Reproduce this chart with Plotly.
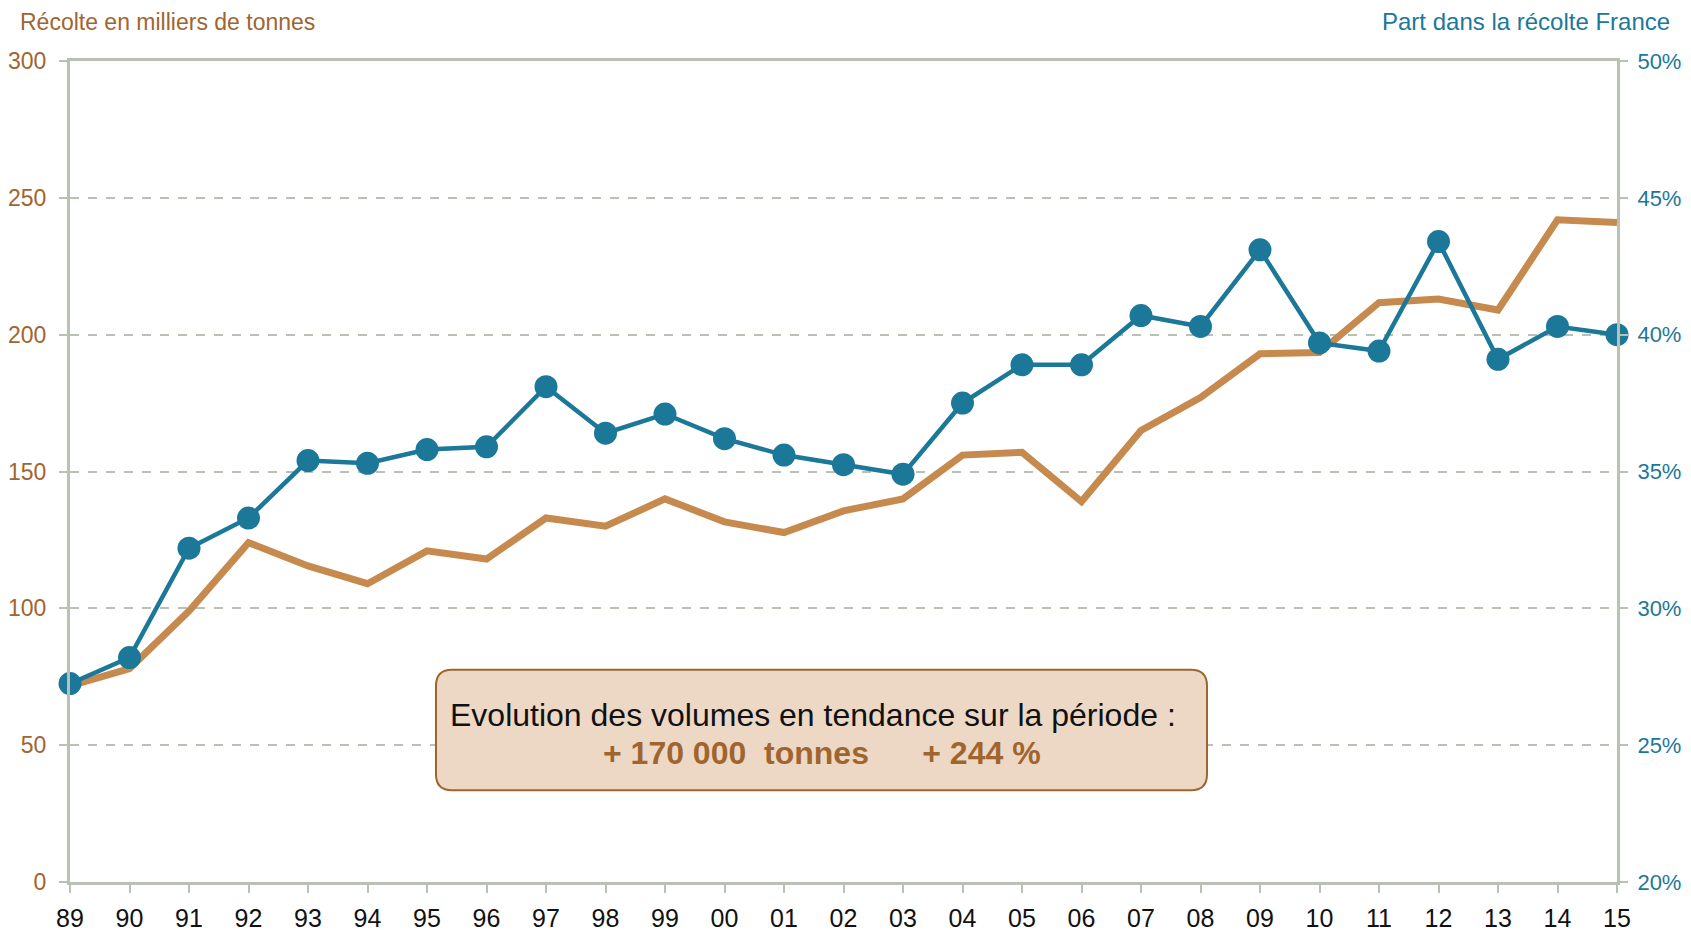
import plotly.graph_objects as go

years = ["89","90","91","92","93","94","95","96","97","98","99","00","01","02","03",
         "04","05","06","07","08","09","10","11","12","13","14","15"]
recolte = [71.7, 78, 99, 124, 115.5, 109, 121, 118, 133, 130, 140, 131.6, 127.7, 135.6, 140,
           156, 157, 139, 165, 177, 193, 193.5, 211.7, 213, 209, 242, 241]
part = [27.25, 28.2, 32.2, 33.3, 35.4, 35.3, 35.8, 35.9, 38.1, 36.4, 37.1, 36.2, 35.6, 35.25, 34.9,
        37.5, 38.9, 38.9, 40.7, 40.3, 43.1, 39.7, 39.4, 43.4, 39.1, 40.3, 40.0]

ORANGE = "#C68A4E"
BROWN = "#A0652F"
BLUE = "#1C7899"
GRID = "#B8C1B3"
FONT = "Liberation Sans, Arial, sans-serif"

OFF = 8  # page body margin
W, H = 1691, 930
L, T = 70 - OFF, 61 - OFF
R = W - (1617 - OFF)
B = H - (882 - OFF)
PW, PH = W - L - R, H - T - B

def px_to_paper_x(px):
    return (px - OFF - L) / PW

def px_to_paper_y(py):
    return (H - (py - OFF) - B) / PH

fig = go.Figure()
fig.add_trace(go.Scatter(x=list(range(len(years))), y=recolte, mode="lines",
                         line=dict(color=ORANGE, width=7), cliponaxis=False,
                         name="Récolte", yaxis="y"))
fig.add_trace(go.Scatter(x=list(range(len(years))), y=part, mode="lines+markers",
                         line=dict(color=BLUE, width=4.5),
                         marker=dict(color=BLUE, size=23), cliponaxis=False,
                         name="Part", yaxis="y2"))

# rounded box
x0, x1 = px_to_paper_x(436), px_to_paper_x(1207)
y0, y1 = 33.5, 77.6
rx, ry = 16 / PW, 16 / (PH / 300)
path = (f"M {x0+rx},{y1} L {x1-rx},{y1} Q {x1},{y1} {x1},{y1-ry} "
        f"L {x1},{y0+ry} Q {x1},{y0} {x1-rx},{y0} L {x0+rx},{y0} "
        f"Q {x0},{y0} {x0},{y0+ry} L {x0},{y1-ry} Q {x0},{y1} {x0+rx},{y1} Z")
fig.add_shape(type="path", path=path, xref="paper", yref="y",
              fillcolor="#EDD8C5", line=dict(color=BROWN, width=2), layer="above")

xm = (x0 + x1) / 2
fig.add_annotation(x=xm, y=61, xref="paper", yref="y", showarrow=False, xshift=-9,
                   text="Evolution des volumes en tendance sur la période :",
                   font=dict(family=FONT, size=32, color="#111111"))
fig.add_annotation(x=xm, y=47, xref="paper", yref="y", showarrow=False,
                   text="<b>+ 170 000  tonnes      + 244 %</b>",
                   font=dict(family=FONT, size=32, color=BROWN))

fig.add_annotation(x=px_to_paper_x(18), y=px_to_paper_y(22), xref="paper", yref="paper",
                   xanchor="left", yanchor="middle", showarrow=False,
                   text="Récolte en milliers de tonnes",
                   font=dict(family=FONT, size=23, color=BROWN))
fig.add_annotation(x=px_to_paper_x(1672), y=px_to_paper_y(22), xref="paper", yref="paper",
                   xanchor="right", yanchor="middle", showarrow=False,
                   text="Part dans la récolte France",
                   font=dict(family=FONT, size=24, color=BLUE))

fig.update_layout(
    width=W, height=H,
    margin=dict(l=L, r=R, t=T, b=B, autoexpand=False),
    paper_bgcolor="white", plot_bgcolor="white",
    showlegend=False,
    font=dict(family=FONT),
    xaxis=dict(range=[0, 26], tickmode="array", tickvals=list(range(len(years))),
               ticktext=years, showgrid=False, zeroline=False, automargin=False,
               showline=True, linecolor=GRID, linewidth=3, mirror=True,
               ticks="outside", ticklen=8, tickcolor=GRID, tickwidth=2,
               ticklabelstandoff=4,
               tickfont=dict(family=FONT, size=25, color="#111111")),
    yaxis=dict(range=[0, 300], dtick=50, showgrid=True, gridcolor=GRID,
               griddash="dash", gridwidth=2, zeroline=False, automargin=False,
               showline=True, linecolor=GRID, linewidth=3,
               ticks="outside", ticklen=8, tickcolor=GRID, tickwidth=2,
               ticklabelstandoff=8,
               tickfont=dict(family=FONT, size=23, color=BROWN)),
    yaxis2=dict(range=[20, 50], dtick=5, overlaying="y", side="right",
                showgrid=False, zeroline=False, ticksuffix="%", automargin=False,
                showline=True, linecolor=GRID, linewidth=3,
                ticks="outside", ticklen=8, tickcolor=GRID, tickwidth=2,
                ticklabelstandoff=5,
                tickfont=dict(family=FONT, size=22, color=BLUE)),
)
fig.write_html("out.html")
